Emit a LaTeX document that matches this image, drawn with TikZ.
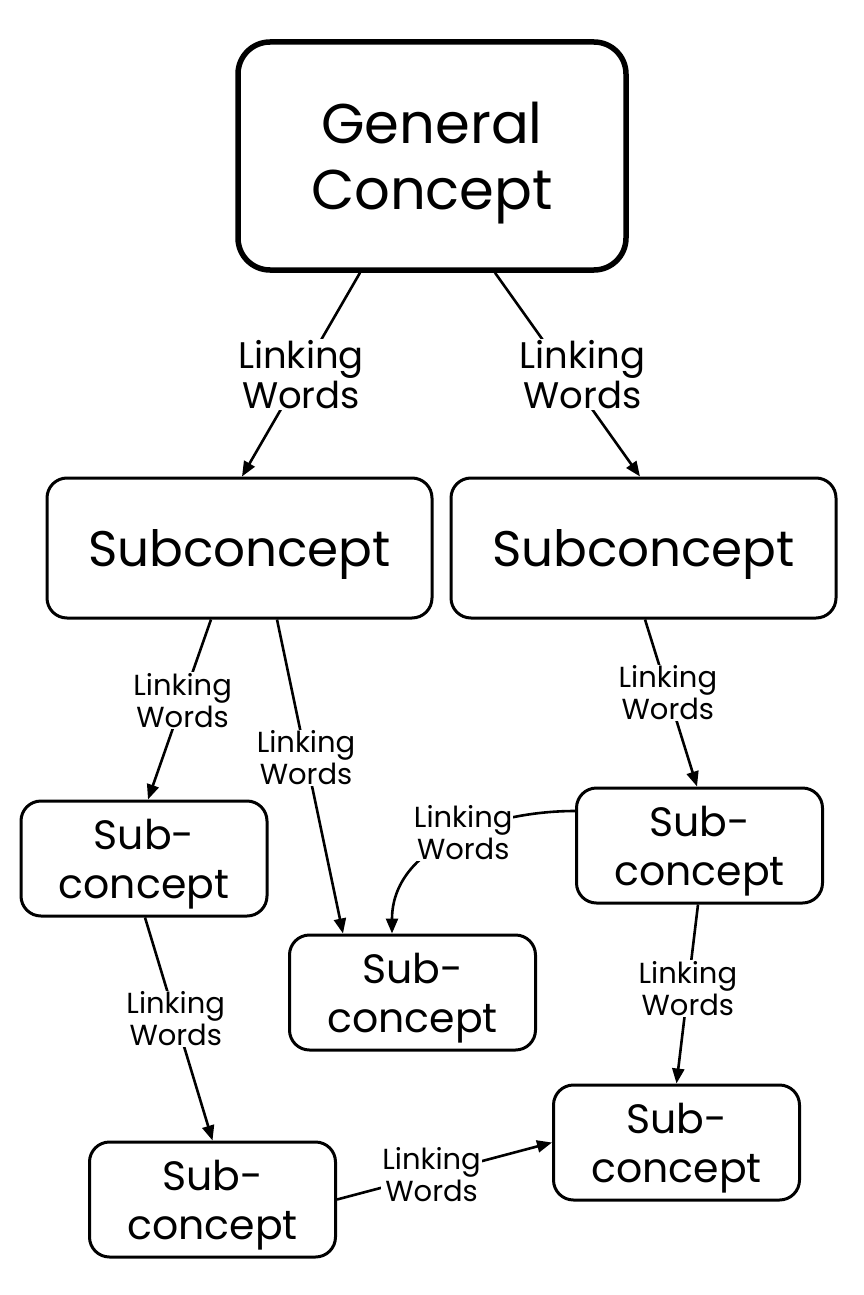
\documentclass[tikz,border=0pt]{standalone}
\usepackage{fontspec}
\setmainfont{Poppins}
\usetikzlibrary{arrows.meta,calc}
\tikzset{
  box/.style={draw, line width=3pt, rounded corners=20pt, minimum width=246pt,
    minimum height=115pt, align=center, text depth=0pt,
    font=\fontsize{41}{49}\selectfont},
  bigbox/.style={box, line width=5.5pt, rounded corners=32pt, minimum width=388pt,
    minimum height=228pt, font=\fontsize{56}{66}\selectfont},
  midbox/.style={box, minimum width=385pt, minimum height=140pt,
    font=\fontsize{50}{60}\selectfont},
  link/.style={->, >={Triangle[length=15pt,width=12pt]}, line width=2.6pt},
  words/.style={fill=white, inner sep=1pt, align=center,
    font=\fontsize{29}{32}\selectfont},
  bigwords/.style={words, font=\fontsize{37}{40}\selectfont},
}
\begin{document}
\begin{tikzpicture}[x=1pt,y=-1pt]
  \useasboundingbox (0,0) rectangle (864,1295);
  % concepts
  \node [bigbox] (gc) at (432,156) {General\\Concept};
  \node [midbox] (s1) at (239.5,548) {Subconcept};
  \node [midbox] (s2) at (643.5,548) {Subconcept};
  \node [box] (a) at (144,858.5) {Sub-\\concept};
  \node [box] (b) at (412.5,992.5) {Sub-\\concept};
  \node [box] (c) at (699.5,845.5) {Sub-\\concept};
  \node [box] (d) at (212.5,1199.5) {Sub-\\concept};
  \node [box] (e) at (676.5,1142.5) {Sub-\\concept};
  % links
  \draw [link] ($(gc.south)+(-72,0)$) -- node [bigwords] (l1) {Linking\\Words} ($(s1.north)+(2.5,0)$);
  \draw [link] ($(gc.south)+(63,0)$) -- node [bigwords,xshift=15pt] (l2) {Linking\\Words} ($(s2.north)+(-3.5,0)$);
  \draw [link] ($(s1.south)+(-28.5,0)$) -- node [words,pos=0.45] (l3) {Linking\\Words} ($(a.north)+(4,0)$);
  \draw [link] ($(s1.south)+(37.5,0)$) -- node [words,pos=0.44] (l4) {Linking\\Words} ($(b.north)+(-69.5,0)$);
  \draw [link] ($(s2.south)+(1.5,0)$) -- node [words,pos=0.44] (l5) {Linking\\Words} ($(c.north)+(-2.5,0)$);
  \draw [link] ($(c.west)+(0,-34.5)$) to [out=180,in=90] node [words,xshift=12pt,yshift=7pt] (l6) {Linking\\Words} ($(b.north)+(-20.5,0)$);
  \draw [link] ($(a.south)+(1,0)$) -- node [words,pos=0.455] (l7) {Linking\\Words} (d.north);
  \draw [link] ($(c.south)+(-1.5,0)$) -- node [words,pos=0.47] (l8) {Linking\\Words} (e.north);
  \draw [link] (d.east) -- node [words,pos=0.44] (l9) {Linking\\Words} (e.west);
\end{tikzpicture}
\end{document}
